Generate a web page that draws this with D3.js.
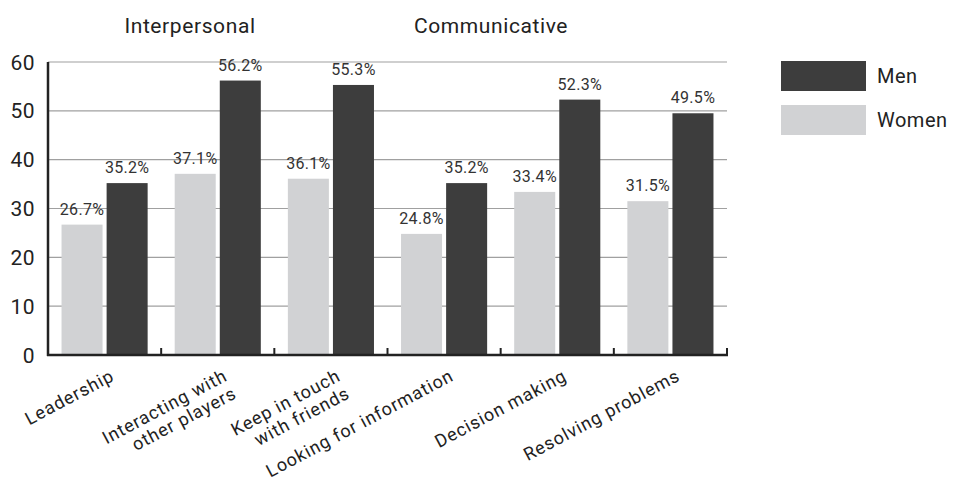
<!DOCTYPE html>
<html>
<head>
<meta charset="utf-8">
<script src="https://cdn.jsdelivr.net/npm/d3@7"></script>
<style>
  html, body { margin: 0; padding: 0; background: #fff; }
  svg { display: block; font-family: Roboto, "DejaVu Sans", sans-serif; }
</style>
</head>
<body>
<svg id="chart" width="959" height="488"></svg>
<script>
// Skills categories (multi-line labels split on "\n")
const categories = [
  "Leadership",
  "Interacting with\nother players",
  "Keep in touch\nwith friends",
  "Looking for information",
  "Decision making",
  "Resolving problems"
];
const women = [26.7, 37.1, 36.1, 24.8, 33.4, 31.5];
const men   = [35.2, 56.2, 55.3, 35.2, 52.3, 49.5];
const yTicks = [0, 10, 20, 30, 40, 50, 60];
const seriesNames = ["Men", "Women"];
const groupTitles = ["Interpersonal", "Communicative"];

const colors = { Men: "#3d3d3d", Women: "#d1d2d4" };

const svg = d3.select("#chart");
const margin = { left: 48, right: 232, top: 62, bottom: 133 };
const W = 959, H = 488;
const plotW = W - margin.left - margin.right;
const plotH = H - margin.top - margin.bottom;

const g = svg.append("g").attr("transform", `translate(${margin.left},${margin.top})`);

const x0 = d3.scaleBand().domain(categories).range([0, plotW]).paddingInner(0).paddingOuter(0);
const x1 = d3.scaleBand().domain(["Women", "Men"]).range([0, x0.bandwidth()])
  .paddingInner(0.09).paddingOuter(0.3);
const y = d3.scaleLinear().domain([0, 60]).range([plotH, 0]);

// horizontal grid lines
g.append("g")
  .selectAll("line")
  .data(yTicks.filter(d => d > 0))
  .join("line")
  .attr("x1", 0).attr("x2", plotW)
  .attr("y1", d => y(d)).attr("y2", d => y(d))
  .attr("stroke", "#a0a0a0").attr("stroke-width", 1.2);

// y tick labels
g.append("g")
  .selectAll("text")
  .data(yTicks)
  .join("text")
  .attr("x", -13).attr("y", d => y(d))
  .attr("dy", "0.36em")
  .attr("text-anchor", "end")
  .attr("font-size", 21)
  .attr("letter-spacing", 0.5)
  .attr("fill", "#222")
  .text(d => d);

// bars
const rows = categories.map((c, i) => ({ c, Women: women[i], Men: men[i] }));
const grp = g.selectAll("g.cat").data(rows).join("g")
  .attr("class", "cat")
  .attr("transform", d => `translate(${x0(d.c)},0)`);

grp.selectAll("rect")
  .data(d => ["Women", "Men"].map(k => ({ k, v: d[k] })))
  .join("rect")
  .attr("x", d => x1(d.k))
  .attr("width", x1.bandwidth())
  .attr("y", d => y(d.v))
  .attr("height", d => plotH - y(d.v))
  .attr("fill", d => colors[d.k]);

grp.selectAll("text.val")
  .data(d => ["Women", "Men"].map(k => ({ k, v: d[k] })))
  .join("text")
  .attr("class", "val")
  .attr("x", d => x1(d.k) + x1.bandwidth() / 2)
  .attr("y", d => y(d.v) - 10)
  .attr("text-anchor", "middle")
  .attr("font-size", 16)
  .attr("letter-spacing", 0.3)
  .attr("fill", "#333")
  .text(d => d.v.toFixed(1) + "%");

// axes lines
g.append("line")
  .attr("x1", 0).attr("x2", 0).attr("y1", y(60)).attr("y2", plotH + 1)
  .attr("stroke", "#222").attr("stroke-width", 2.5);
g.append("line")
  .attr("x1", -1).attr("x2", plotW + 1).attr("y1", plotH).attr("y2", plotH)
  .attr("stroke", "#222").attr("stroke-width", 2.5);

// category boundary ticks (pointing up)
const bounds = categories.slice(1).map(c => x0(c)).concat([plotW]);
g.append("g").selectAll("line")
  .data(bounds)
  .join("line")
  .attr("x1", d => d).attr("x2", d => d)
  .attr("y1", plotH).attr("y2", plotH - 7)
  .attr("stroke", "#222").attr("stroke-width", 2);

// rotated category labels
const lab = g.append("g").selectAll("text")
  .data(categories)
  .join("text")
  .attr("transform", d => `translate(${x0(d) + x0.bandwidth() / 2 + 4},${plotH + 12}) rotate(-28)`)
  .attr("text-anchor", "end")
  .attr("font-size", 18)
  .attr("letter-spacing", 0.9)
  .attr("fill", "#222");
lab.each(function (d) {
  const lines = d.split("\n");
  d3.select(this).selectAll("tspan")
    .data(lines)
    .join("tspan")
    .attr("x", 0)
    .attr("dy", (l, i) => i === 0 ? "0.8em" : "1.1em")
    .text(l => l);
});

// group titles
const titleX = [190, 491];
svg.append("g").selectAll("text")
  .data(groupTitles)
  .join("text")
  .attr("x", (d, i) => titleX[i])
  .attr("y", 33)
  .attr("text-anchor", "middle")
  .attr("font-size", 21)
  .attr("letter-spacing", 0.6)
  .attr("fill", "#222")
  .text(d => d);

// legend
const leg = svg.append("g").attr("transform", "translate(781,61)");
const li = leg.selectAll("g").data(seriesNames).join("g")
  .attr("transform", (d, i) => `translate(0,${i * 44})`);
li.append("rect").attr("width", 85).attr("height", 30).attr("fill", d => colors[d]);
li.append("text").attr("x", 96).attr("y", 15).attr("dy", "0.36em")
  .attr("font-size", 20).attr("letter-spacing", 0.5).attr("fill", "#222").text(d => d);
</script>
</body>
</html>
